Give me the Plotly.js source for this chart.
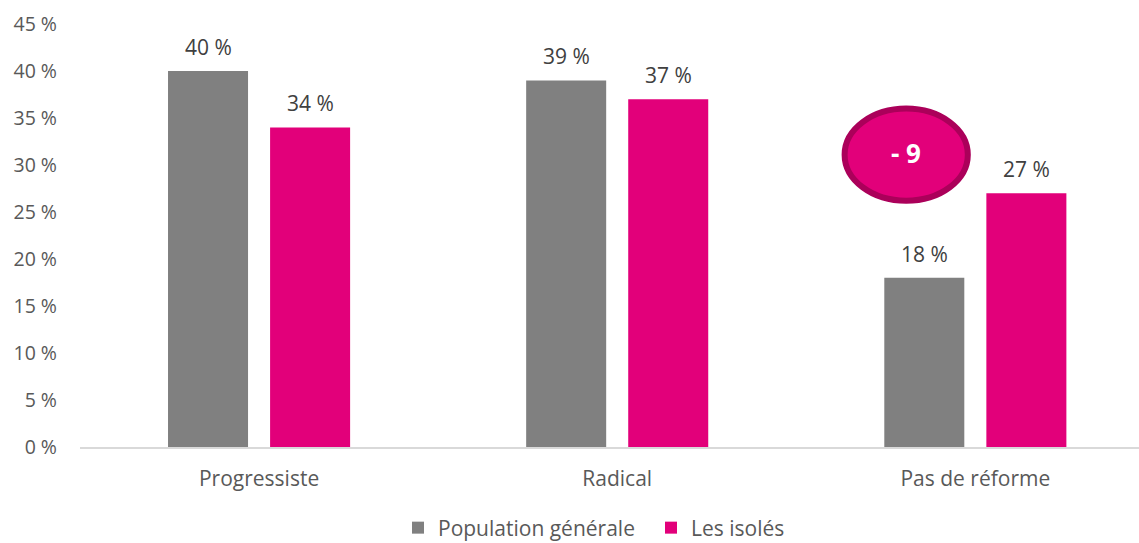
<!DOCTYPE html>
<html><head><meta charset="utf-8">
<script src="https://cdn.plot.ly/plotly-3.0.1.min.js"></script>
<style>html,body{margin:0;padding:0;background:#fff}#chart{width:1139px;height:543px}</style>
</head><body><div id="chart"></div>
<script>
const categories = ["Progressiste", "Radical", "Pas de réforme"];
const populationGenerale = [40, 39, 18];
const lesIsoles = [34, 37, 27];
const yTickVals = [0, 5, 10, 15, 20, 25, 30, 35, 40, 45];
const yTickText = ["0 %", "5 %", "10 %", "15 %", "20 %", "25 %", "30 %", "35 %", "40 %", "45 %"];
const seriesNames = ["Population générale", "Les isolés"];
const diffLabel = "- 9";

const FAM = "'Open Sans', sans-serif";
const font = {family: FAM, size: 21, color: "#595959"};
const tickFontY = {family: FAM, size: 19.5, color: "#595959"};
const labelFont = {family: FAM, size: 21, color: "#404040"};
const traces = [
  {type: "bar", name: seriesNames[0], x: categories, y: populationGenerale,
   marker: {color: "#808080"}, hoverinfo: "none"},
  {type: "bar", name: seriesNames[1], x: categories, y: lesIsoles,
   marker: {color: "#e2007a"}, hoverinfo: "none"}
];
const labelAnns = [];
[populationGenerale, lesIsoles].forEach((vals, s) => {
  vals.forEach((v, i) => {
    labelAnns.push({xref: "x", yref: "y", x: categories[i], y: v, text: v + " %",
      showarrow: false, xshift: s === 0 ? -51 : 51, yshift: 24, yanchor: "middle", font: labelFont});
  });
});
const layout = {
  width: 1139, height: 543,
  margin: {l: 80, r: 0, t: 24, b: 96},
  paper_bgcolor: "#fff", plot_bgcolor: "#fff",
  font: font,
  barmode: "group", bargap: 0.43, bargroupgap: 0.216,
  showlegend: true,
  legend: {orientation: "h", x: 398 / 1139, xanchor: "left", xref: "container",
           y: 15 / 543, yref: "container", yanchor: "middle",
           font: font, traceorder: "normal", itemwidth: 30,
           entrywidth: 208, entrywidthmode: "pixels"},
  xaxis: {type: "category", range: [-0.5, 2.457], showgrid: false, zeroline: false,
          showline: true, linecolor: "#d9d9d9", linewidth: 2, ticks: "",
          tickfont: font, ticklabelstandoff: 12, fixedrange: true},
  yaxis: {range: [0, 45], tickvals: yTickVals, ticktext: yTickText, showgrid: false,
          zeroline: false, showline: false, ticks: "", tickfont: tickFontY, ticklabelstandoff: 22},
  shapes: [{type: "circle", xref: "x", yref: "y", x0: 1.635, x1: 1.979, y0: 26.2, y1: 36.0,
            fillcolor: "#e2007a", line: {color: "#ab005a", width: 6}, layer: "above"}],
  annotations: labelAnns.concat([{xref: "x", yref: "y", x: 1.807, y: 31.3, text: "<b>" + diffLabel + "</b>",
                 showarrow: false, font: {family: FAM, size: 26, color: "#ffffff"}}])
};
Plotly.newPlot("chart", traces, layout, {displayModeBar: false, staticPlot: true});
</script></body></html>
